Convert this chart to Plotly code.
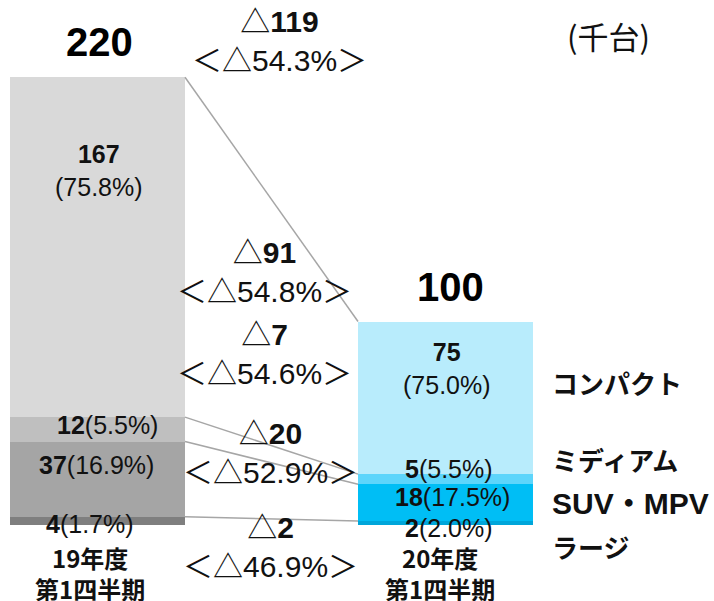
import numpy as np
import plotly.graph_objects as go

# ---------------- data ----------------
periods = [["19年度", "第1四半期"], ["20年度", "第1四半期"]]
segments = ["ラージ", "SUV・MPV", "ミディアム", "コンパクト"]   # bottom -> top
fy19_q1 = [4, 37, 12, 167]
fy20_q1 = [2, 18, 5, 75]
share19 = [1.7, 16.9, 5.5, 75.8]
share20 = [2.0, 17.5, 5.5, 75.0]
totals = [220, 100]
change = [2, 20, 7, 91]
change_pct = [46.9, 52.9, 54.6, 54.8]
total_change = 119
total_change_pct = 54.3
unit_label = "(千台)"

# ---------------- style ----------------
W, H = 714, 601
colors19 = ["#7f7f7f", "#a5a5a5", "#bfbfbf", "#d9d9d9"]
colors20 = ["#00a6da", "#00bef5", "#5dd5fb", "#b8ecfc"]
LAT = "Liberation Sans, Arial, Noto Sans CJK JP"
CJK = "Noto Sans CJK JP, Liberation Sans"

X0_PX, PX_PER_X = 97.5, 348.0
Y0_PX, PX_PER_Y = 525.0, 2.035
BAR_W = 175.0 / PX_PER_X

def px(x):
    return x / W

def py(y):
    return 1 - y / H

fig = go.Figure()

# stacked bars
for i, seg in enumerate(segments):
    fig.add_trace(go.Bar(
        x=[0, 1], y=[fy19_q1[i], fy20_q1[i]], name=seg, width=BAR_W,
        marker=dict(color=[colors19[i], colors20[i]], line=dict(width=0)),
        hoverinfo="skip", showlegend=False))

# connector lines between cumulative tops
cum19 = np.cumsum(fy19_q1)
cum20 = np.cumsum(fy20_q1)
for a, b in zip(cum19, cum20):
    fig.add_trace(go.Scatter(
        x=[BAR_W / 2, 1 - BAR_W / 2], y=[a, b], mode="lines",
        line=dict(color="#a6a6a6", width=1.5), hoverinfo="skip", showlegend=False))

ann = []

# segment labels
shifts = [
    [(-7.5, -3), (-1.5, 14), (9.5, 4), (1.5, 77)],
    [(3.5, -5), (6.5, 5.6), (3.5, 10), (1, 29)],
]
for b, (vals, shares) in enumerate([(fy19_q1, share19), (fy20_q1, share20)]):
    base = 0
    for i, (v, s) in enumerate(zip(vals, shares)):
        if i == len(vals) - 1:
            txt = f"<b>{v}</b><br>({s:.1f}%)"
        else:
            txt = f"<b>{v}</b>({s:.1f}%)"
        xs, ys = shifts[b][i]
        ann.append(dict(x=b, y=base + v / 2, xref="x", yref="y", text=txt,
                        showarrow=False, xanchor="center", yanchor="middle",
                        xshift=xs, yshift=ys,
                        font=dict(family=LAT, size=25, color="#111111")))
        base += v

# totals
for b, (t, xs) in enumerate(zip(totals, [1.5, 4.5])):
    ann.append(dict(x=b, y=t, xref="x", yref="y", text=f"<b>{t}</b>",
                    showarrow=False, xanchor="center", yanchor="middle",
                    xshift=xs, yshift=35,
                    font=dict(family=LAT, size=40, color="#000000")))

# period labels (two lines each)
for b, (lines, xs) in enumerate(zip(periods, [-7.5, -5.5])):
    for line, ys in zip(lines, [-32, -63]):
        ann.append(dict(x=b, y=0, xref="x", yref="y", text=f"<b>{line}</b>",
                        showarrow=False, xanchor="center", yanchor="middle",
                        xshift=xs, yshift=ys, borderpad=0,
                        font=dict(family=CJK, size=24, color="#111111")))

# change labels
diff_pos = [(270, 546.5), (270, 453), (264, 353.5), (264, 272)]
for (cx, cy), d, dp in zip(diff_pos, change, change_pct):
    ann.append(dict(x=px(cx), y=py(cy), xref="paper", yref="paper",
                    text=f"△<b>{d}</b><br>＜△{dp:.1f}%＞",
                    showarrow=False, xanchor="center", yanchor="middle",
                    font=dict(family=LAT, size=30, color="#111111")))
ann.append(dict(x=px(279), y=py(41), xref="paper", yref="paper",
                text=f"△<b>{total_change}</b><br>＜△{total_change_pct:.1f}%＞",
                showarrow=False, xanchor="center", yanchor="middle",
                font=dict(family=LAT, size=30, color="#111111")))

# segment names (right side)
name_y = [546, 503, 459, 382]
for seg, cy in zip(segments, name_y):
    fam, size = (LAT, 30) if seg.startswith("SUV") else (CJK, 26)
    ann.append(dict(x=px(550), y=py(cy), xref="paper", yref="paper",
                    text=f"<b>{seg}</b>", showarrow=False,
                    xanchor="left", yanchor="middle",
                    font=dict(family=fam, size=size, color="#111111")))

# unit
ann.append(dict(x=px(608), y=py(36), xref="paper", yref="paper", text=unit_label,
                showarrow=False, xanchor="center", yanchor="middle",
                font=dict(family=CJK, size=31, color="#111111")))

fig.update_layout(
    width=W, height=H, barmode="stack", bargap=0,
    margin=dict(l=0, r=0, t=0, b=0),
    paper_bgcolor="white", plot_bgcolor="white",
    xaxis=dict(range=[-X0_PX / PX_PER_X, (W - X0_PX) / PX_PER_X],
               visible=False, fixedrange=True),
    yaxis=dict(range=[-(H - Y0_PX) / PX_PER_Y, Y0_PX / PX_PER_Y],
               visible=False, fixedrange=True),
    annotations=ann, showlegend=False,
)

fig.write_html(
    "out.html",
    config={"displayModeBar": False},
    post_script="document.body.style.margin='0';document.body.style.padding='0';"
                "document.body.style.overflow='hidden';",
)
